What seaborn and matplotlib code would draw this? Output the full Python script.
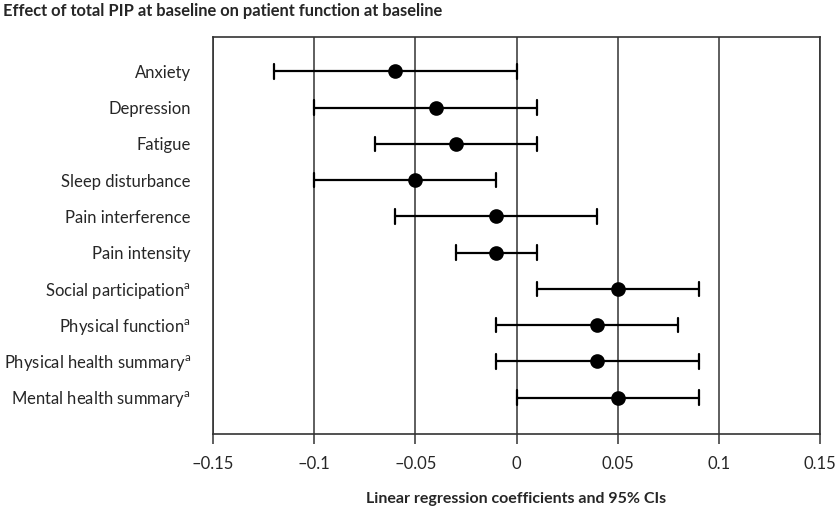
import matplotlib
matplotlib.use("Agg")
import matplotlib.pyplot as plt
import matplotlib.ticker as mticker
import seaborn as sns
import pandas as pd

# outcome labels, top to bottom
outcomes = [
    "Anxiety",
    "Depression",
    "Fatigue",
    "Sleep disturbance",
    "Pain interference",
    "Pain intensity",
    r"Social participation$^{\mathrm{a}}$",
    r"Physical function$^{\mathrm{a}}$",
    r"Physical health summary$^{\mathrm{a}}$",
    r"Mental health summary$^{\mathrm{a}}$",
]
# coefficient and 95% CI bounds
coef = [-0.06, -0.04, -0.03, -0.05, -0.01, -0.01, 0.05, 0.04, 0.04, 0.05]
ci_low = [-0.12, -0.10, -0.07, -0.10, -0.06, -0.03, 0.01, -0.01, -0.01, 0.00]
ci_high = [0.00, 0.01, 0.01, -0.01, 0.04, 0.01, 0.09, 0.08, 0.09, 0.09]
xticks = [-0.15, -0.1, -0.05, 0, 0.05, 0.1, 0.15]

# long table: median of (low, coef, high) is coef, full range is the CI
rows = []
for name, lo, c, hi in zip(outcomes, ci_low, coef, ci_high):
    for v in (lo, c, hi):
        rows.append({"outcome": name, "value": v})
df = pd.DataFrame(rows)

sns.set_style("white")
plt.rcParams["font.family"] = ["Lato", "DejaVu Sans"]
plt.rcParams["mathtext.fontset"] = "custom"
plt.rcParams["mathtext.rm"] = "Lato"

fig = plt.figure(figsize=(8.37, 5.07), dpi=100)
ax = fig.add_axes([213 / 837, 1 - 434 / 507, (820 - 213) / 837, (434 - 37) / 507])

sns.pointplot(
    data=df, x="value", y="outcome", order=outcomes, orient="h",
    estimator="median", errorbar=("pi", 100), linestyle="none",
    color="black", capsize=0.4, err_kws={"linewidth": 1.6},
    markersize=8.5, ax=ax,
)

ax.set_xlim(-0.15, 0.15)
ax.set_ylim(len(outcomes) - 1 + 1.0, -0.95)
ax.set_xticks(xticks)
ax.xaxis.set_major_formatter(
    mticker.FuncFormatter(lambda v, p: ("%g" % v).replace("-", "\u2013")))
ax.grid(axis="x", color="#333333", linewidth=1.1)
ax.grid(axis="y", visible=False)
ax.set_axisbelow(True)
for s in ax.spines.values():
    s.set_visible(True)
    s.set_color("#333333")
    s.set_linewidth(1.2)

ax.tick_params(axis="x", direction="out", length=7, width=1.1, color="#333333",
               labelsize=12, pad=9, bottom=True)
ax.tick_params(axis="y", length=0, labelsize=12, pad=16)
ax.set_ylabel("")
ax.set_xlabel("Linear regression coefficients and 95% CIs", fontsize=11.5,
              fontweight="bold", labelpad=14)

fig.text(0.003, 1 - 11 / 507, "Effect of total PIP at baseline on patient function at baseline",
         fontsize=11.9, fontweight="bold", va="center", ha="left")

fig.savefig("out.png", dpi=100)
